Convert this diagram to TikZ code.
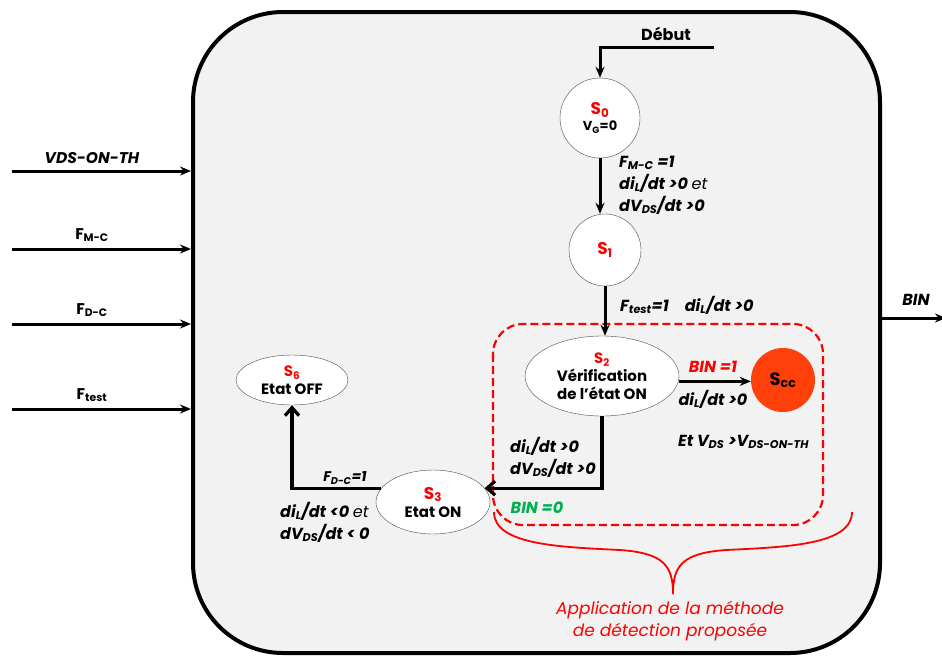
\documentclass[tikz,border=0pt]{standalone}
\usepackage{fontspec}
\setmainfont{Poppins}
\usetikzlibrary{arrows.meta,positioning,shapes.geometric}
\definecolor{boxgray}{RGB}{242,242,242}
\definecolor{statered}{RGB}{255,0,0}
\definecolor{ccorange}{RGB}{255,64,10}
\definecolor{bingreen}{RGB}{0,176,80}
\newcommand{\lo}[1]{\textsubscript{#1}}
\newcommand{\fs}[2][1.3]{\fontsize{#2}{#1\dimexpr#2pt\relax}\selectfont}

\begin{document}
\begin{tikzpicture}[x=1pt,y=-1pt,>={Stealth[length=11pt,width=9pt]},
    txt/.style={font=\fs[1.38]{16}\bfseries\itshape,inner sep=0pt},
    stt/.style={font=\fs[1.2]{15}\bfseries,align=center,inner sep=0pt,
      draw=black!70,fill=white,thin},
    wire/.style={line width=3pt},
    barb/.style={line width=3.2pt,-{Straight Barb[length=8pt,width=14pt]}}]
  \useasboundingbox (0,0) rectangle (942,657);
  % controller box
  \node[draw,line width=4pt,fill=boxgray,rounded corners=90pt,
    minimum width=687pt,minimum height=641pt,inner sep=0pt] (ctrl) at (536.5,332.5) {};
  % detection zone
  \draw[statered,line width=2.2pt,dash pattern=on 8pt off 4pt,rounded corners=30pt]
    (493,324) rectangle (823,525);
  % states
  \node[stt,circle,minimum size=80pt] (s0) at (600,118)
    {{\color{statered}\fs{17}S\lo{0}}\\[-2pt]{\fs{13}V\lo{G}=0}};
  \node[stt,circle,minimum size=72pt] (s1) at (605,250)
    {\color{statered}\fs{17}S\lo{1}};
  \node[stt,ellipse,minimum width=154pt,minimum height=80pt] (s2) at (602,376)
    {{\color{statered}S\lo{2}}\\Vérification\\de l'état ON};
  \node[circle,fill=ccorange,minimum width=64pt,minimum height=62pt,
    font=\fs{18}\bfseries] (scc) at (783,380) {S\lo{cc}};
  \node[stt,ellipse,minimum width=112pt,minimum height=50pt] (s6) at (292,380)
    {{\color{statered}S\lo{6}}\\Etat OFF};
  \node[stt,ellipse,minimum width=114pt,minimum height=64pt] (s3) at (433,502)
    {{\color{statered}\fs{17}S\lo{3}}\\Etat ON};
  % transitions
  \coordinate (debut) at (714,47);
  \node[font=\fs{16}\bfseries,inner sep=0pt] (lbldebut) at (666,34) {Début};
  \draw[wire,->] (debut) -| (s0.north);
  \draw[wire,->] (s0.south) -- (s0.south |- s1.north);
  \draw[wire,->] (s1.south) -- (s1.south |- s2.north);
  \draw[wire,->] (s2.-4) -- (s2.-4 -| scc.west);
  \draw[barb] (s2.south) |- (s3.15);
  \draw[barb] (s3.165) -| (s6.south);
  % transition conditions
  \node[txt,anchor=west,align=left] (c01) at (619,185)
    {F\lo{M-C} =1\\di\lo{L}/dt >0 {\mdseries et}\\dV\lo{DS}/dt >0};
  \node[txt,anchor=west] (c12) at (620,305) {F\lo{test}=1\quad di\lo{L}/dt >0};
  \node[txt,statered] (cbin1) at (713,367) {BIN =1};
  \node[txt] (cdil) at (713,399) {di\lo{L}/dt >0};
  \node[txt,anchor=west] (cvds) at (678,442) {Et V\lo{DS} >V\lo{DS-ON-TH}};
  \node[txt,anchor=west,align=left] (c23) at (510,457)
    {di\lo{L}/dt >0\\dV\lo{DS}/dt >0};
  \node[txt,bingreen] (cbin0) at (537,508) {BIN =0};
  \node[txt,font=\fs{14}\bfseries\itshape] (c36a) at (345,478) {F\lo{D-C}=1};
  \node[txt,anchor=west,align=left] (c36b) at (280,522)
    {di\lo{L}/dt <0 {\mdseries et}\\dV\lo{DS}/dt < 0};
  % brace and caption
  \draw[statered,line width=1.8pt]
    (494,512) .. controls (494,545) and (560,547) .. (620,550)
    .. controls (664,553) and (673,566) .. (673,594);
  \draw[statered,line width=1.8pt]
    (852,512) .. controls (852,545) and (786,547) .. (726,550)
    .. controls (682,553) and (673,566) .. (673,594);
  \node[txt,statered,align=center,font=\fs{17}\itshape] (caption) at (670,621)
    {Application de la méthode\\de détection proposée};
  % inputs and output
  \foreach \y/\lbl/\nm in {171/{\itshape VDS-ON-TH}/vds,249/{F\lo{M-C}}/fmc,
      324/{F\lo{D-C}}/fdc,409/{F\lo{test}}/ftest} {
    \coordinate (in\nm) at (12,\y);
    \draw[wire,->] (in\nm) -- (in\nm -| ctrl.west);
    \node[font=\fs{15.5}\bfseries,inner sep=0pt,above=7pt of in\nm, xshift=80pt] (l\nm) {\lbl};
  }
  \coordinate (outbin) at (946,318);
  \draw[wire,->] (outbin -| ctrl.east) -- (outbin);
  \node[txt] (lbin) at (916,300) {BIN};
\end{tikzpicture}
\end{document}
